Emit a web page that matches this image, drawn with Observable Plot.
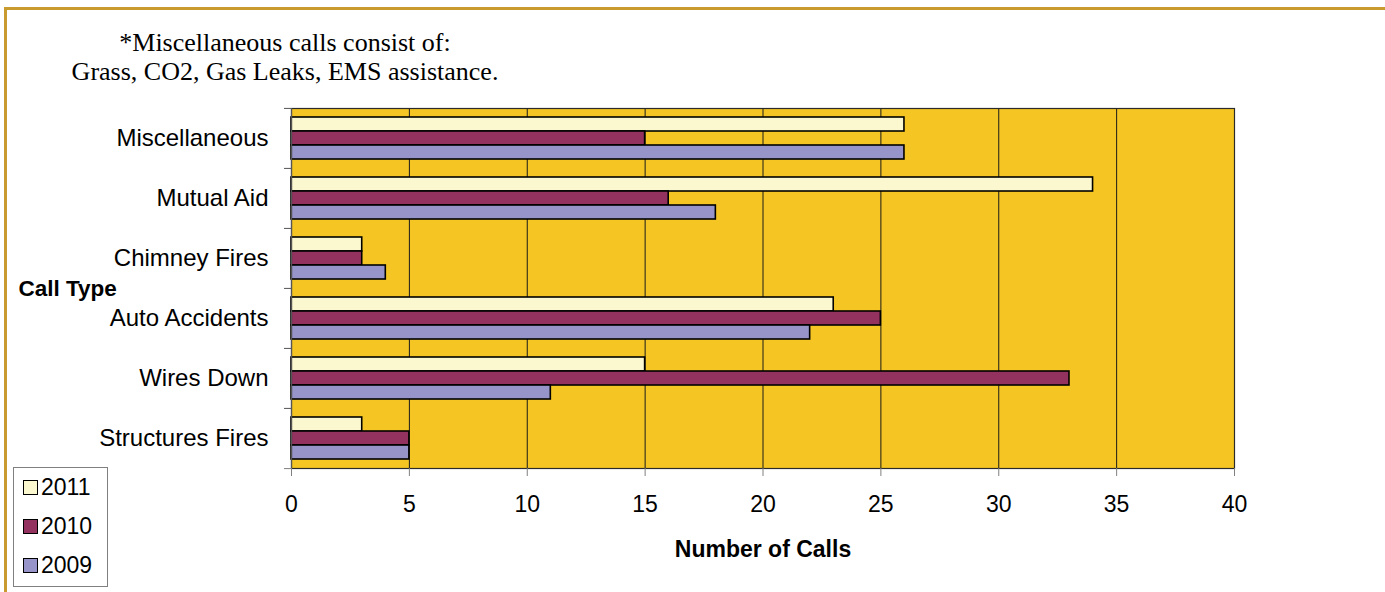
<!DOCTYPE html>
<html>
<head>
<meta charset="utf-8">
<script src="https://cdn.jsdelivr.net/npm/d3@7"></script>
<script src="https://cdn.jsdelivr.net/npm/@observablehq/plot@0.6"></script>
<style>
  html, body { margin: 0; padding: 0; background: #fff; }
  #wrap { position: relative; width: 1385px; height: 592px; overflow: hidden; }
  #borderTop { position: absolute; left: 4px; top: 7px; width: 1381px; height: 3px; background: #C99B2E; }
  #borderLeft { position: absolute; left: 4px; top: 7px; width: 3px; height: 585px; background: #C99B2E; }
  #note { position: absolute; left: 0; top: 28px; width: 570px; text-align: center;
          font-family: "Liberation Serif", "Times New Roman", serif; font-size: 26px; line-height: 29px; color: #000; }
  #legend { position: absolute; left: 13px; top: 467px; width: 95px; height: 120px; border: 1px solid #808080; box-sizing: border-box;
            font-family: "Liberation Sans", Arial, sans-serif; font-size: 23px; color: #000; }
  .item { position: absolute; left: 9px; height: 24px; display: flex; align-items: center; }
  .sw { width: 15px; height: 15px; border: 1.5px solid #000; box-sizing: border-box; margin-right: 3px; }
  #chart { position: absolute; left: 0; top: 0; }
</style>
</head>
<body>
<div id="wrap">
  <div id="chart"></div>
  <div id="borderTop"></div>
  <div id="borderLeft"></div>
  <div id="note">*Miscellaneous calls consist of:<br>Grass, CO2, Gas Leaks, EMS assistance.</div>
  <div id="legend"></div>
</div>
<script>
const categories = ["Miscellaneous", "Mutual Aid", "Chimney Fires", "Auto Accidents", "Wires Down", "Structures Fires"];
const years = ["2011", "2010", "2009"];
const calls2011 = [26, 34, 3, 23, 15, 3];
const calls2010 = [15, 16, 3, 25, 33, 5];
const calls2009 = [26, 18, 4, 22, 11, 5];
const xTicks = [0, 5, 10, 15, 20, 25, 30, 35, 40];
const gridValues = [5, 10, 15, 20, 25, 30, 35];
const yearColors = ["#FBF7CE", "#93325F", "#9694C8"];
const plotBg = "#F5C623";

const seriesByYear = {"2011": calls2011, "2010": calls2010, "2009": calls2009};
const data = categories.flatMap((c, i) => years.map(y => ({category: c, year: y, value: seriesByYear[y][i]})));

const W = 1385, H = 592, mT = 107, mB = 124, mL = 291, mR = 151;
const step = (H - mT - mB) / categories.length;

const chart = Plot.plot({
  width: W, height: H,
  marginTop: mT, marginBottom: mB, marginLeft: mL, marginRight: mR,
  style: {fontFamily: "'Liberation Sans', Arial, sans-serif", fontSize: "23px", background: "transparent", color: "#000"},
  x: {domain: [0, 40], ticks: xTicks, label: null},
  y: {domain: years, paddingInner: 0, paddingOuter: 0.635, axis: null},
  fy: {domain: categories, padding: 0, label: null},
  color: {domain: years, range: yearColors},
  marks: [
    Plot.frame({facet: "super", fill: plotBg, stroke: null}),
    Plot.ruleX(gridValues, {stroke: "#1a1a1a", strokeWidth: 1}),
    Plot.barX(data, {fy: "category", y: "year", x: "value", fill: "year", stroke: "#000", strokeWidth: 1.6}),
    Plot.frame({facet: "super", stroke: "#2a2a2a", strokeWidth: 1.2}),
    Plot.ruleX([0], {stroke: "#555", strokeWidth: 1.2}),
    Plot.axisFy({anchor: "left", tickSize: 0, tickPadding: 23, label: null, fontSize: 24}),
    Plot.axisFy({anchor: "left", tickSize: 7, tickFormat: () => "", label: null, stroke: "#555", dy: -step / 2}),
    Plot.axisFy({anchor: "left", ticks: [categories[categories.length - 1]], tickSize: 7, tickFormat: () => "", label: null, stroke: "#808080", dy: step / 2}),
    Plot.axisX({anchor: "bottom", tickSize: 8, tickPadding: 19, stroke: "#808080", label: null}),
    Plot.text(["Number of Calls"], {facet: "super", frameAnchor: "bottom", lineAnchor: "middle", dy: 81, fontWeight: "bold", fontSize: 23}),
    Plot.text(["Call Type"], {facet: "super", frameAnchor: "left", dx: -273, textAnchor: "start", fontWeight: "bold", fontSize: 22.5})
  ]
});
document.getElementById("chart").appendChild(chart);

const legend = document.getElementById("legend");
years.forEach((y, i) => {
  const item = document.createElement("div");
  item.className = "item";
  item.style.top = (7 + i * 39) + "px";
  const sw = document.createElement("div");
  sw.className = "sw";
  sw.style.background = yearColors[i];
  const lab = document.createElement("span");
  lab.textContent = y;
  item.appendChild(sw);
  item.appendChild(lab);
  legend.appendChild(item);
});
</script>
</body>
</html>
